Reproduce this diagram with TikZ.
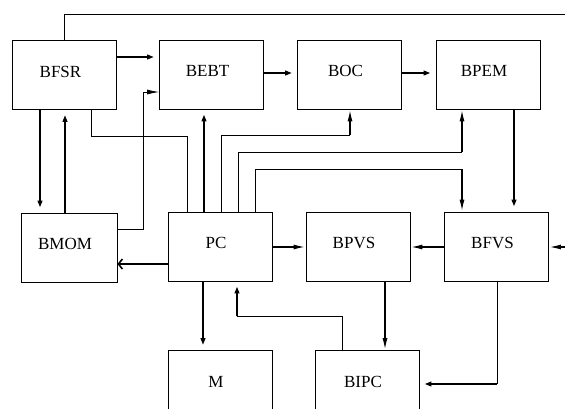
\documentclass[tikz,border=0pt]{standalone}
\usepackage{fontspec}
\setmainfont{Liberation Serif}
\usetikzlibrary{arrows.meta}

\tikzset{
  blk/.style={draw,line width=0.8pt,minimum width=104pt,minimum height=69pt,inner sep=0pt,
    text depth=7pt,execute at begin node={\hspace*{-8pt}},font=\fontsize{17}{20}\selectfont},
  thn/.style={line width=0.8pt},
  mid/.style={line width=1.6pt},
  thk/.style={line width=2.4pt},
  arr/.style={-{Latex[length=12pt,width=5pt]}},
  barb/.style={-{Straight Barb[length=4pt,width=10pt,line width=1.6pt]}}
}

\begin{document}
\begin{tikzpicture}[x=1pt,y=-1pt]
			\useasboundingbox (0,0) rectangle (565,408);
			\clip (0,0) rectangle (565,408);
			
			\node[blk] (BFSR) at (64.5,75) {BFSR};
			\node[blk] (BEBT) at (211.5,74.5) {BEBT};
			\node[blk] (BOC) at (349.5,74.5) {BOC};
			\node[blk] (BPEM) at (488,74.5) {BPEM};
			\node[blk,minimum width=96pt] (BMOM) at (69,247.5) {BMOM};
			\node[blk] (PC) at (220,246.5) {PC};
			\node[blk] (BPVS) at (358,246.5) {BPVS};
			\node[blk] (BFVS) at (496.5,246.5) {BFVS};
			\node[blk] (M) at (220,385) {M};
			\node[blk] (BIPC) at (367,385) {BIPC};
			
			\coordinate (rtop) at (565,14);
			\coordinate (rmid) at (565,247);
			
			% top row
			\draw[thn] (BFSR.north) |- (rtop);
			\draw[thk,arr] (BFSR.east |- 0,57) -- (BEBT.west |- 0,57);
			\draw[thk,arr] (BEBT.east |- 0,73) -- (BOC.west |- 0,73);
			\draw[thk,arr] (BOC.east |- 0,73) -- (BPEM.west |- 0,73);
			\draw[thn,arr] (BMOM.east |- 0,229) -| (143,92) -- (BEBT.west |- 0,92);
			
			% BFSR and BMOM
			\draw[thk,arr] (BFSR.south -| 40,0) -- (BMOM.north -| 40,0);
			\draw[thk,arr] (BMOM.north -| 65,0) -- (BFSR.south -| 65,0);
			\draw[thk,barb] (PC.west |- 0,264) -- (BMOM.east |- 0,264);
			
			% PC upwards
			\draw[thn] (BFSR.south -| 91,0) |- (187,136) -- (PC.north -| 187,0);
			\draw[thk,arr] (PC.north -| 204,0) -- (BEBT.south -| 204,0);
			\draw[thn] (PC.north -| 221,0) |- (350,135);
			\draw[mid,arr] (350,135) -- (BOC.south -| 350,0);
			\draw[thn] (PC.north -| 238,0) |- (462,152);
			\draw[mid,arr] (462,152) -- (BPEM.south -| 462,0);
			\draw[thn] (PC.north -| 255,0) |- (462,169);
			\draw[mid,arr] (462,169) -- (BFVS.north -| 462,0);
			\draw[thk,arr] (BPEM.south -| 514,0) -- (BFVS.north -| 514,0);
			
			% middle row
			\draw[mid,arr] (PC.east |- 0,247) -- (BPVS.west |- 0,247);
			\draw[mid,arr] (BFVS.west |- 0,247) -- (BPVS.east |- 0,247);
			\draw[mid,arr] (rmid) -- (BFVS.east |- 0,247);
			
			% bottom row
			\draw[thk,arr] (PC.south -| 203,0) -- (M.north -| 203,0);
			\draw[thn] (BIPC.north -| 342,0) |- (237,316);
			\draw[thk,arr] (237,316) -- (PC.south -| 237,0);
			\draw[mid,arr] (BPVS.south -| 385,0) -- (BIPC.north -| 385,0);
			\draw[thn] (BFVS.south -| 497,0) -- (497,384);
			\draw[thk,arr] (497,384) -- (BIPC.east |- 0,384);
			
		\end{tikzpicture}
\end{document}
